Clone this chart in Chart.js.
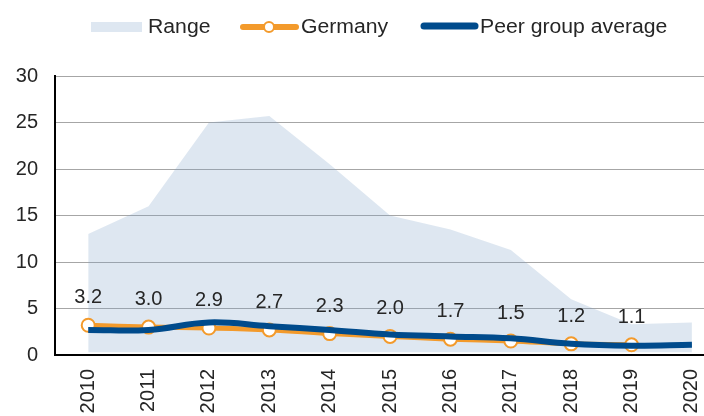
<!DOCTYPE html>
<html>
<head>
<meta charset="utf-8">
<script src="https://cdn.jsdelivr.net/npm/chart.js@4"></script>
<style>
  body { margin: 0; background: #fff; }
  #wrap { width: 704px; height: 416px; }
</style>
</head>
<body>
<div id="wrap"><canvas id="myChart"></canvas></div>
<script>
const years = [2010, 2011, 2012, 2013, 2014, 2015, 2016, 2017, 2018, 2019, 2020];
const rangeLow = [0.3, 0.3, 0.3, 0.3, 0.3, 0.3, 0.3, 0.3, 0.3, 0.3, 0.3];
const rangeHigh = [13.0, 16.0, 25.0, 25.7, 20.5, 15.0, 13.5, 11.3, 6.0, 3.3, 3.5];
const germany = [3.2, 3.0, 2.9, 2.7, 2.3, 2.0, 1.7, 1.5, 1.2, 1.1];
const peerAvg = [2.7, 2.7, 3.5, 3.1, 2.7, 2.2, 2.0, 1.8, 1.2, 1.0, 1.1];
const yTicks = [0, 5, 10, 15, 20, 25, 30];

const FONT = 'Arial, "Liberation Sans", sans-serif';
const ORANGE = '#f39a2b';
const BLUE = '#004b8c';
const RANGE_FILL = 'rgba(123,159,199,0.25)';

const ctx = document.getElementById('myChart');

function pts(values) {
  return values.map((v, i) => ({ x: years[i], y: v }));
}

// the plot runs right up to the canvas edge
const stretchPlugin = {
  id: 'stretchRight',
  afterLayout(chart) {
    const xs = chart.scales.x;
    xs.right = chart.width;
    xs.width = xs.right - xs.left;
    xs.configure();
    chart.chartArea.right = chart.width;
    chart.chartArea.width = chart.width - chart.chartArea.left;
  }
};

// data labels above the Germany points
const labelPlugin = {
  id: 'germanyLabels',
  afterDatasetsDraw(chart) {
    const meta = chart.getDatasetMeta(1);
    const c = chart.ctx;
    c.save();
    c.font = '20px ' + FONT;
    c.fillStyle = '#262626';
    c.textAlign = 'center';
    c.textBaseline = 'alphabetic';
    meta.data.forEach((p, i) => {
      c.fillText(germany[i].toFixed(1), p.x, p.y - 22);
    });
    c.restore();
  }
};

function wideText(c, txt, x, y) {
  c.save();
  c.translate(x, y);
  c.scale(1.06, 1);
  c.fillText(txt, 0, 0);
  c.restore();
}

// legend drawn by hand (Germany needs line + circle)
const legendPlugin = {
  id: 'customLegend',
  afterDraw(chart) {
    const c = chart.ctx;
    const y = 27;
    c.save();
    c.fillStyle = RANGE_FILL;
    c.fillRect(91, 22, 51, 10);

    c.strokeStyle = ORANGE;
    c.lineWidth = 6;
    c.lineCap = 'round';
    c.beginPath(); c.moveTo(243, y); c.lineTo(296, y); c.stroke();
    c.beginPath(); c.arc(269, y, 5, 0, Math.PI * 2);
    c.fillStyle = '#fff'; c.fill();
    c.lineWidth = 2; c.stroke();

    c.strokeStyle = BLUE;
    c.lineWidth = 7;
    c.beginPath(); c.moveTo(424, 26); c.lineTo(475, 26); c.stroke();

    c.font = '20px ' + FONT;
    c.fillStyle = '#262626';
    c.textBaseline = 'alphabetic';
    c.textAlign = 'left';
    wideText(c, 'Range', 148, 33);
    wideText(c, 'Germany', 301, 33);
    wideText(c, 'Peer group average', 480, 33);
    c.restore();
  }
};

new Chart(ctx, {
  type: 'line',
  data: {
    datasets: [{
      label: 'Peer group average',
      data: pts(peerAvg),
      borderColor: BLUE,
      borderWidth: 6,
      pointRadius: 0,
      tension: 0.4,
      fill: false,
      order: 0
    }, {
      label: 'Germany',
      data: pts(germany),
      borderColor: ORANGE,
      borderWidth: 5,
      pointRadius: 6.5,
      pointBorderWidth: 2,
      pointBackgroundColor: '#fff',
      pointBorderColor: ORANGE,
      tension: 0.4,
      fill: false,
      order: 1
    }, {
      label: 'Range',
      data: pts(rangeHigh),
      borderWidth: 0,
      borderColor: 'rgba(0,0,0,0)',
      backgroundColor: RANGE_FILL,
      pointRadius: 0,
      tension: 0,
      fill: '+1',
      order: 2
    }, {
      label: 'rangeLow',
      data: pts(rangeLow),
      borderWidth: 0,
      borderColor: 'rgba(0,0,0,0)',
      pointRadius: 0,
      fill: false,
      order: 3
    }]
  },
  options: {
    responsive: true,
    maintainAspectRatio: false,
    animation: false,
    layout: { padding: { top: 76, right: 0, left: 0, bottom: 0 } },
    plugins: {
      legend: { display: false },
      tooltip: { enabled: false }
    },
    scales: {
      x: {
        type: 'linear',
        min: 2009.45,
        max: 2020.2,
        grid: { display: false, drawTicks: false },
        border: { display: true, color: '#000', width: 2 },
        afterFit(scale) {
          scale.height = 61;
          scale.paddingLeft = 0;
          scale.paddingRight = 0;
        },
        ticks: {
          stepSize: 1,
          includeBounds: false,
          minRotation: 90,
          maxRotation: 90,
          padding: 14,
          color: '#262626',
          font: { size: 20, family: FONT },
          callback: (v) => String(v)
        }
      },
      y: {
        min: 0,
        max: 30,
        afterFit(scale) { scale.width = 55; },
        afterBuildTicks(scale) { scale.ticks = yTicks.map(v => ({ value: v })); },
        grid: { color: '#a6a6a6', lineWidth: 1, drawTicks: false },
        border: { display: true, color: '#000', width: 2 },
        ticks: {
          padding: 17,
          color: '#262626',
          font: { size: 20, family: FONT }
        }
      }
    }
  },
  plugins: [stretchPlugin, labelPlugin, legendPlugin]
});
</script>
</body>
</html>
